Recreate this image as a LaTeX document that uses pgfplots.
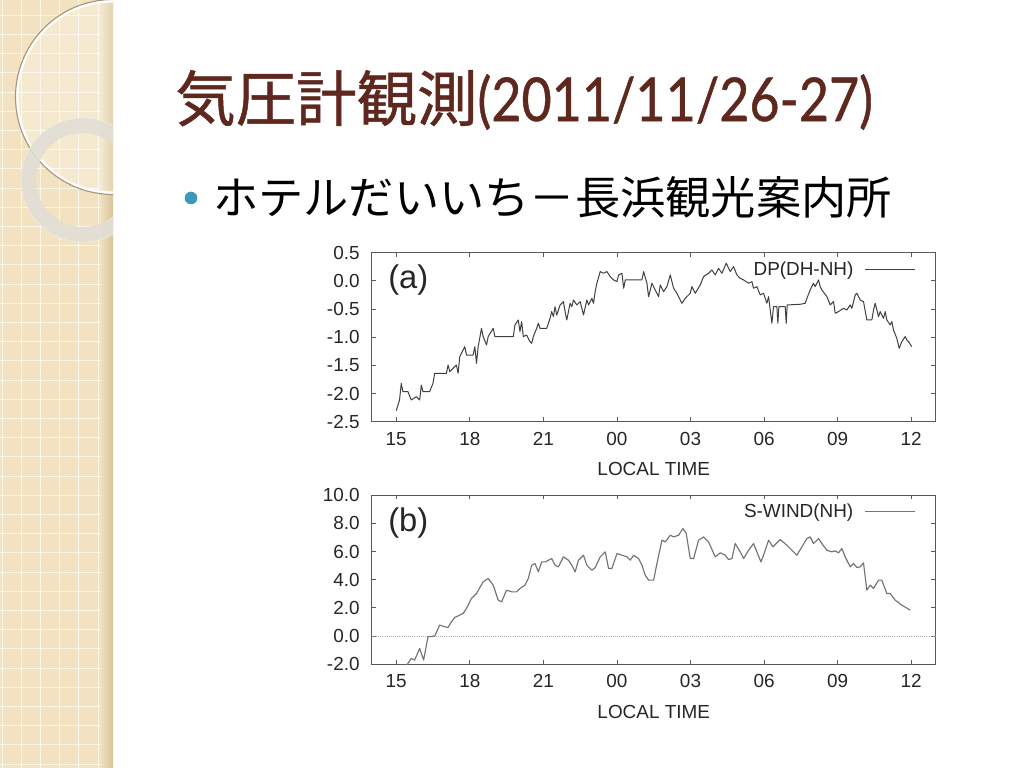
\documentclass[border=0pt]{standalone}
\usepackage{pgfplots}
\pgfplotsset{compat=1.18}
\usepackage{fontspec}
\setmainfont{Liberation Sans}
\newfontfamily\cjk{Noto Sans CJK JP}
\newfontfamily\cjkt{Noto Sans CJK JP}[FakeBold=0.8]
\newfontfamily\titlelat{Lato}[FakeBold=0.8]
\definecolor{titlebrown}{RGB}{94,40,30}
\definecolor{panel}{RGB}{242,226,192}
\definecolor{panelDark}{RGB}{214,192,148}
\definecolor{bullet}{RGB}{58,154,184}
\definecolor{ringgray}{RGB}{226,222,214}
\definecolor{circbrown}{RGB}{170,150,120}

\newcommand\chartfont{\fontsize{13.3}{15}\selectfont}

\pgfplotsset{
  gp/.style={
    scale only axis, width=396.6pt, height=118.9pt,
    xmin=14, xmax=37,
    xtick={15,18,21,24,27,30,33,36},
    xticklabels={15,18,21,00,03,06,09,12},
    axis line style={line width=0.9pt, color=black!65},
    tick style={line width=0.6pt, color=black!65},
    major tick length=3pt, tick align=inside,
    ticklabel style={font=\chartfont, text=black!85},
    xticklabel style={yshift=-3.8pt},
    yticklabel style={xshift=-5pt},
    xlabel={LOCAL TIME},
    xlabel style={yshift=-5pt},
    label style={font=\chartfont, text=black!85},
    legend style={draw=none, fill=none, font=\chartfont, text=black!85,
      at={(rel axis cs:1,1)}, anchor=north east, inner sep=0pt,
      xshift=-14pt, yshift=-4pt},
    legend plot pos=right,
    legend image code/.code={\path (0pt,0pt); \draw[#1] (6pt,0pt) -- (41pt,0pt);},
  }
}

\begin{document}
\begin{tikzpicture}[x=0.703125pt,y=0.703125pt]
\path[use as bounding box] (0,0) rectangle (1024,768);
\fill[white] (0,0) rectangle (1024,768);

% decorative left panel
\begin{scope}
  \clip (0,0) rectangle (113,768);
  \fill[panel] (0,0) rectangle (113,768);
  \foreach \i in {0,...,41} {
    \draw[white, line width=0.6pt, opacity=0.7] (\i*19.2+2,0) -- (\i*19.2+2,768);
    \draw[white, line width=0.6pt, opacity=0.7] (0,\i*19.2+4) -- (113,\i*19.2+4);
  }
  \shade[left color=panel, right color=panelDark, opacity=0.9] (100,0) rectangle (113,768);
  \fill[white, opacity=0.25] (113,671) circle (96);
  \draw[white, line width=2.2pt] (113,671) circle (96);
  \draw[circbrown, line width=0.8pt] (113,671) circle (97.5);
  \fill[ringgray, opacity=0.9, even odd rule] (83,588) circle (62) (83,588) circle (47);
  \draw[white!80!circbrown, line width=0.4pt] (83,588) circle (62);
\end{scope}

% title
\node[anchor=west, inner sep=0pt, text=titlebrown] at (175,668)
  {\fontsize{42.5}{46}\selectfont\cjkt 気圧計観測\scalebox{0.86}[1]{\titlelat(2011/11/26-27)}};
% bullet
\fill[bullet] (191,570) circle (6.3);
\node[anchor=west, inner sep=0pt] at (213,571)
  {\fontsize{31.8}{36}\selectfont\cjk ホテルだいいち－長浜観光案内所};

% ---------------- plot (a)
\begin{axis}[gp, at={(261.35pt,243.49pt)}, anchor=south west,
  ymin=-2.5, ymax=0.5,
  ytick={-2.5,-2,-1.5,-1,-0.5,0,0.5},
  yticklabels={-2.5,-2.0,-1.5,-1.0,-0.5,0.0,0.5}]
\addplot[color=black!75, line width=0.7pt, line join=round] coordinates {
(15.000,-2.305)(15.136,-2.115)(15.205,-1.820)(15.273,-1.967)(15.477,-1.967)(15.614,-2.115)
(15.818,-2.056)(15.955,-2.115)(16.023,-1.849)(16.091,-1.967)(16.364,-1.967)(16.500,-1.820)
(16.568,-1.642)(17.045,-1.642)(17.114,-1.494)(17.182,-1.612)(17.455,-1.494)(17.523,-1.642)
(17.591,-1.346)(17.795,-1.169)(17.864,-1.317)(18.136,-1.317)(18.205,-1.169)(18.273,-1.464)
(18.341,-1.169)(18.477,-0.843)(18.545,-0.990)(18.682,-1.139)(18.750,-0.990)(18.955,-0.843)
(19.023,-0.990)(19.773,-0.990)(19.841,-0.784)(19.977,-0.695)(20.045,-0.902)(20.114,-0.725)
(20.182,-0.990)(20.318,-0.962)(20.455,-1.080)(20.523,-1.109)(20.591,-0.990)(20.727,-0.843)
(20.795,-0.754)(20.864,-0.843)(21.136,-0.843)(21.273,-0.666)(21.341,-0.547)(21.409,-0.636)
(21.477,-0.459)(21.545,-0.607)(21.682,-0.429)(21.818,-0.370)(21.886,-0.547)(21.955,-0.695)
(22.091,-0.399)(22.159,-0.459)(22.227,-0.340)(22.364,-0.429)(22.500,-0.370)(22.636,-0.607)
(22.773,-0.340)(22.841,-0.429)(22.977,-0.311)(23.045,-0.399)(23.114,-0.192)(23.182,-0.044)
(23.318,0.163)(23.455,0.133)(23.591,0.163)(23.727,0.074)(23.864,0.015)(24.000,-0.015)
(24.068,0.104)(24.205,0.133)(24.273,-0.133)(24.341,0.015)(25.019,0.015)(25.087,0.163)
(25.223,-0.044)(25.291,-0.281)(25.427,-0.044)(25.563,-0.163)(25.698,-0.281)(25.766,-0.074)
(25.902,-0.192)(26.038,-0.104)(26.174,0.104)(26.310,-0.133)(26.446,-0.222)(26.582,-0.340)
(26.649,-0.399)(26.785,-0.311)(26.989,-0.222)(27.057,-0.104)(27.193,-0.222)(27.397,-0.074)
(27.533,0.074)(27.736,0.133)(27.872,0.192)(28.008,0.104)(28.144,0.222)(28.280,0.133)
(28.457,0.311)(28.620,0.163)(28.755,0.251)(28.891,0.104)(29.027,0.044)(29.163,0.015)
(29.367,-0.044)(29.503,-0.015)(29.571,-0.133)(29.707,-0.104)(29.842,-0.251)(29.978,-0.222)
(30.114,-0.399)(30.182,-0.281)(30.318,-0.754)(30.386,-0.459)(30.522,-0.459)(30.562,-0.754)
(30.603,-0.459)(30.861,-0.459)(30.902,-0.754)(30.943,-0.429)(31.473,-0.417)(31.677,-0.399)
(31.745,-0.311)(31.880,-0.163)(32.016,-0.044)(32.084,-0.104)(32.220,0.015)(32.288,-0.104)
(32.356,-0.163)(32.560,-0.281)(32.696,-0.429)(32.832,-0.370)(32.899,-0.577)(33.035,-0.547)
(33.239,-0.488)(33.375,-0.518)(33.511,-0.429)(33.579,-0.488)(33.715,-0.251)(33.783,-0.222)
(33.918,-0.340)(34.054,-0.370)(34.190,-0.695)(34.394,-0.695)(34.462,-0.518)(34.530,-0.399)
(34.666,-0.636)(34.734,-0.547)(34.870,-0.666)(34.938,-0.547)(35.005,-0.695)(35.141,-0.784)
(35.209,-0.725)(35.277,-0.873)(35.413,-1.021)(35.508,-1.198)(35.617,-1.080)(35.753,-0.990)
(35.821,-1.050)(35.889,-1.080)(36.024,-1.169)
};
\addlegendentry{DP(DH-NH)}
\node[anchor=west, inner sep=0pt, font=\fontsize{23}{26}\selectfont, text=black!85]
  at (rel axis cs:0.029,0.838) {(a)};
\end{axis}

% ---------------- plot (b)
\begin{axis}[gp, at={(261.35pt,72.92pt)}, anchor=south west,
  ymin=-2, ymax=10,
  ytick={-2,0,2,4,6,8,10},
  yticklabels={-2.0,0.0,2.0,4.0,6.0,8.0,10.0}]
\addplot[color=black!35, line width=0.5pt, densely dotted, forget plot] coordinates {(14,0) (37,0)};
\addplot[color=black!55, line width=0.8pt, line join=round] coordinates {
(15.341,-2.291)(15.614,-1.583)(15.750,-1.701)(15.955,-0.874)(16.118,-1.701)(16.295,-0.047)
(16.568,0.000)(16.773,0.780)(16.977,0.661)(17.114,0.614)(17.250,1.016)(17.386,1.323)
(17.727,1.606)(17.864,1.961)(18.068,2.670)(18.273,3.024)(18.545,3.851)(18.750,4.087)
(18.955,3.614)(19.159,2.551)(19.295,2.433)(19.500,3.260)(19.705,3.142)(19.909,3.142)
(20.045,3.378)(20.250,3.614)(20.386,4.087)(20.523,5.032)(20.659,5.150)(20.795,4.559)
(20.932,5.268)(21.068,5.268)(21.205,5.386)(21.341,5.504)(21.477,5.032)(21.614,4.914)
(21.818,5.622)(22.023,5.386)(22.159,5.032)(22.295,4.559)(22.432,5.386)(22.636,5.740)
(22.773,5.032)(22.977,4.677)(23.114,4.867)(23.318,5.622)(23.523,5.977)(23.659,4.796)
(23.795,4.796)(24.000,5.859)(24.204,5.740)(24.408,5.622)(24.543,5.386)(24.679,5.740)
(24.883,5.504)(25.019,5.032)(25.155,4.323)(25.291,3.969)(25.495,3.969)(25.630,5.150)
(25.834,6.804)(25.970,6.686)(26.174,7.158)(26.310,7.040)(26.514,7.158)(26.690,7.630)
(26.826,7.276)(26.989,5.504)(27.125,5.504)(27.329,6.804)(27.533,7.040)(27.736,6.686)
(28.008,5.622)(28.212,5.906)(28.416,5.740)(28.552,5.433)(28.688,5.504)(28.823,6.567)
(29.027,5.977)(29.163,5.504)(29.367,6.095)(29.571,6.567)(29.707,5.977)(29.870,5.268)
(29.978,5.740)(30.182,6.804)(30.359,6.331)(30.658,6.851)(30.929,6.449)(31.337,5.740)
(31.541,6.331)(31.745,6.922)(31.880,7.040)(32.016,6.567)(32.220,6.922)(32.356,6.567)
(32.560,6.095)(32.764,5.977)(32.899,6.048)(33.035,5.906)(33.171,6.213)(33.307,5.622)
(33.511,4.914)(33.647,5.150)(33.783,4.867)(33.918,4.914)(34.054,5.197)(34.190,3.260)
(34.326,3.614)(34.462,3.378)(34.666,3.969)(34.802,3.969)(35.005,3.024)(35.141,3.024)
(35.345,2.551)(35.617,2.197)(35.957,1.843)
};
\addlegendentry{S-WIND(NH)}
\node[anchor=west, inner sep=0pt, font=\fontsize{23}{26}\selectfont, text=black!85]
  at (rel axis cs:0.029,0.835) {(b)};
\end{axis}
\end{tikzpicture}
\end{document}
